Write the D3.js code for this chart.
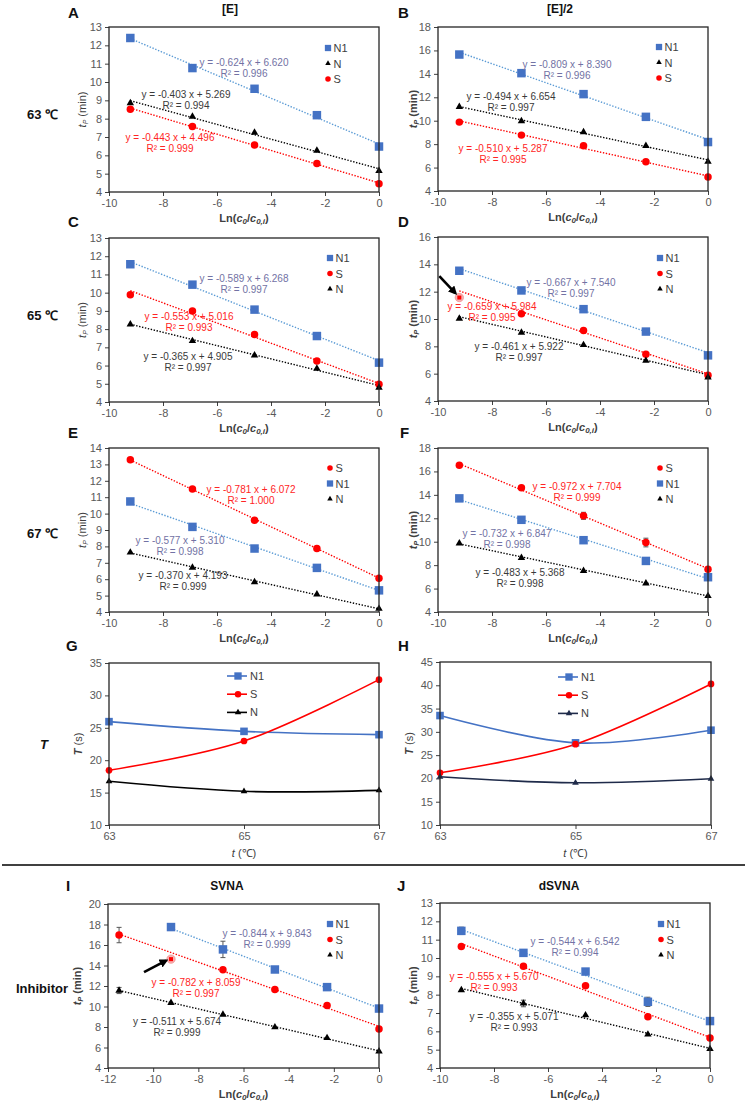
<!DOCTYPE html>
<html>
<head>
<meta charset="utf-8">
<script src="https://cdn.jsdelivr.net/npm/d3@7"></script>
<style>
  body { margin: 0; background: #fff; }
  svg { display: block; font-family: "Liberation Sans", Arial, sans-serif; }
</style>
</head>
<body>
<svg id="fig" width="747" height="1101"></svg>
<script>
// x values: Ln(c0/c0,i) for the dilution series
var lnX = [-9.21, -6.91, -4.61, -2.30, 0];
var lnXI = [-11.51, -9.21, -6.91, -4.61, -2.30, 0];
var temps = [63, 65, 67];

// fit arrays are [slope, intercept, R2]
// A  63 C, [E]
var aN1 = [12.40, 10.76, 9.63, 8.19, 6.48];
var aN  = [8.85, 8.11, 7.24, 6.26, 5.16];
var aS  = [8.52, 7.57, 6.57, 5.55, 4.45];
var aFitN1 = [-0.624, 6.620, 0.996], aFitN = [-0.403, 5.269, 0.994], aFitS = [-0.443, 4.496, 0.999];
// B  63 C, [E]/2
var bN1 = [15.65, 14.06, 12.27, 10.33, 8.18];
var bN  = [11.19, 9.97, 9.03, 7.86, 6.50];
var bS  = [9.88, 8.77, 7.86, 6.50, 5.20];
var bFitN1 = [-0.809, 8.390, 0.996], bFitN = [-0.494, 6.654, 0.997], bFitS = [-0.510, 5.287, 0.995];
// C  65 C, [E]
var cN1 = [11.56, 10.44, 9.07, 7.62, 6.16];
var cS  = [9.89, 9.00, 7.71, 6.25, 4.97];
var cN  = [8.26, 7.35, 6.56, 5.83, 4.79];
var cFitN1 = [-0.589, 6.268, 0.997], cFitS = [-0.553, 5.016, 0.993], cFitN = [-0.365, 4.905, 0.997];
// D  65 C, [E]/2
var dN1 = [13.53, 12.09, 10.72, 9.08, 7.34];
var dS  = [11.57, 10.38, 9.15, 7.42, 5.88];
var dN  = [10.03, 9.00, 8.10, 6.95, 5.73];
var dFitN1 = [-0.667, 7.540, 0.997], dFitS = [-0.659, 5.984, 0.995], dFitN = [-0.461, 5.922, 0.997];
// E  67 C, [E]
var eS  = [13.29, 11.50, 9.60, 7.87, 6.06];
var eN1 = [10.74, 9.19, 7.87, 6.69, 5.32];
var eN  = [7.63, 6.71, 5.83, 5.08, 4.20];
var eFitS = [-0.781, 6.072, 1.000], eFitN1 = [-0.577, 5.310, 0.998], eFitN = [-0.370, 4.193, 0.999];
// F  67 C, [E]/2
var fS  = [16.52, 14.61, 12.21, 9.93, 7.65];
var fSErr = [0, 0.15, 0.30, 0.37, 0];
var fN1 = [13.70, 11.87, 10.13, 8.36, 6.97];
var fN  = [9.87, 8.62, 7.51, 6.45, 5.37];
var fFitS = [-0.972, 7.704, 0.999], fFitN1 = [-0.732, 6.847, 0.998], fFitN = [-0.483, 5.368, 0.998];
// G, H  T (s) versus temperature
var gN1 = [25.95, 24.45, 23.94];
var gS  = [18.44, 22.96, 32.43];
var gN  = [16.74, 15.20, 15.35];
var hN1 = [33.50, 27.64, 30.36];
var hS  = [21.21, 27.36, 40.29];
var hN  = [20.36, 19.07, 19.93];
// I  inhibitor, SVNA
var iN1 = [17.75, 15.57, 13.61, 11.89, 9.80];
var iN1Err = [0, 0.80, 0, 0, 0];
var iS  = [16.97, 14.62, 13.58, 11.66, 10.10, 7.80];
var iSErr = [0.75, 0, 0, 0, 0, 0];
var iN  = [11.56, 10.35, 9.21, 7.98, 6.93, 5.63];
var iNErr = [0.30, 0, 0, 0, 0, 0];
var iFitN1 = [-0.844, 9.843, 0.999], iFitS = [-0.782, 8.059, 0.997], iFitN = [-0.511, 5.674, 0.999];
// J  inhibitor, dSVNA
var jN1 = [11.48, 10.28, 9.26, 7.61, 6.56];
var jN1Err = [0.20, 0.15, 0, 0.25, 0];
var jS  = [10.63, 9.55, 8.49, 6.79, 5.64];
var jN  = [8.25, 7.52, 6.88, 5.83, 5.04];
var jNErr = [0, 0.18, 0, 0, 0];
var jFitN1 = [-0.544, 6.542, 0.994], jFitS = [-0.555, 5.670, 0.993], jFitN = [-0.355, 5.071, 0.993];

var style = {
  N1: { shape: d3.symbolSquare, size: 72, fill: '#4472c4', trend: '#5b9bd5', eq: '#7272a4' },
  S:  { shape: d3.symbolCircle, size: 44, fill: '#ff0000', trend: '#ff0000', eq: '#ff2525' },
  N:  { shape: d3.symbolTriangle, size: 24, fill: '#000000', trend: '#000000', eq: '#3a3a3a' }
};

var svg = d3.select('#fig');
svg.append('rect').attr('width', 747).attr('height', 1101).attr('fill', '#fff');

var defs = svg.append('defs');
defs.append('marker')
  .attr('id', 'arrowHead')
  .attr('viewBox', '0 0 10 10')
  .attr('refX', 7).attr('refY', 5)
  .attr('markerWidth', 3.4).attr('markerHeight', 3.4)
  .attr('orient', 'auto')
  .append('path').attr('d', 'M0,0L10,5L0,10z').attr('fill', '#000');

var regPanels = [
  { letter: 'A', lpos: [68, 18], title: '[E]', tpos: [230, 13], box: [109, 27, 379, 192], x: [-10, 0], y: [4, 13], yStep: 1, yOff: 27, boldY: false,
    legend: [219, 21],
    series: [
      { key: 'N1', x: lnX, y: aN1, fit: aFitN1, eq: [135, 35] },
      { key: 'N', x: lnX, y: aN, fit: aFitN, eq: [77, 67] },
      { key: 'S', x: lnX, y: aS, fit: aFitS, eq: [61, 110] }] },
  { letter: 'B', lpos: [398, 18], title: '[E]/2', tpos: [560, 13], box: [438, 27, 708, 191], x: [-10, 0], y: [4, 18], yStep: 2, yOff: 25, boldY: true,
    legend: [221, 20],
    series: [
      { key: 'N1', x: lnX, y: bN1, fit: bFitN1, eq: [129, 37] },
      { key: 'N', x: lnX, y: bN, fit: bFitN, eq: [73, 69] },
      { key: 'S', x: lnX, y: bS, fit: bFitS, eq: [65, 121] }] },
  { letter: 'C', lpos: [68, 227], box: [109, 238, 379, 402], x: [-10, 0], y: [4, 13], yStep: 1, yOff: 27, boldY: false,
    legend: [221, 20],
    series: [
      { key: 'N1', x: lnX, y: cN1, fit: cFitN1, eq: [135, 40] },
      { key: 'S', x: lnX, y: cS, fit: cFitS, eq: [80, 78] },
      { key: 'N', x: lnX, y: cN, fit: cFitN, eq: [79, 118] }] },
  { letter: 'D', lpos: [398, 227], box: [438, 237, 708, 401], x: [-10, 0], y: [4, 16], yStep: 2, yOff: 25, boldY: true,
    legend: [222, 21],
    series: [
      { key: 'N1', x: lnX, y: dN1, fit: dFitN1, eq: [133, 45] },
      { key: 'S', x: lnX, y: dS, fit: dFitS, eq: [54, 69], hl: 0, arrow: [[-4, -4.5], [-16, -17]] },
      { key: 'N', x: lnX, y: dN, fit: dFitN, eq: [81, 109] }] },
  { letter: 'E', lpos: [68, 438], box: [109, 448, 379, 612], x: [-10, 0], y: [4, 14], yStep: 1, yOff: 27, boldY: false,
    legend: [221, 20],
    series: [
      { key: 'S', x: lnX, y: eS, fit: eFitS, eq: [142, 41] },
      { key: 'N1', x: lnX, y: eN1, fit: eFitN1, eq: [71, 92] },
      { key: 'N', x: lnX, y: eN, fit: eFitN, eq: [74, 127] }] },
  { letter: 'F', lpos: [400, 438], box: [438, 448, 708, 612], x: [-10, 0], y: [4, 18], yStep: 2, yOff: 25, boldY: true,
    legend: [222, 20],
    series: [
      { key: 'S', x: lnX, y: fS, err: fSErr, fit: fFitS, eq: [139, 38] },
      { key: 'N1', x: lnX, y: fN1, fit: fFitN1, eq: [69, 85] },
      { key: 'N', x: lnX, y: fN, fit: fFitN, eq: [82, 124] }] },
  { letter: 'I', lpos: [66, 891], title: 'SVNA', tpos: [227, 890], box: [108, 904, 379, 1068], x: [-12, 0], y: [4, 20], yStep: 2, yOff: 31, boldY: true,
    legend: [222, 20],
    series: [
      { key: 'N1', x: lnX, y: iN1, err: iN1Err, fit: iFitN1, eq: [159, 29] },
      { key: 'S', x: lnXI, y: iS, err: iSErr, fit: iFitS, eq: [88, 78], hl: 1, arrow: [[-5, 1.5], [-22, 11.5]] },
      { key: 'N', x: lnXI, y: iN, err: iNErr, fit: iFitN, eq: [69, 117] }] },
  { letter: 'J', lpos: [397, 891], title: 'dSVNA', tpos: [559, 890], box: [440, 903, 710, 1068], x: [-10, 0], y: [4, 13], yStep: 1, yOff: 27, boldY: true,
    legend: [221, 21],
    series: [
      { key: 'N1', x: lnX, y: jN1, err: jN1Err, fit: jFitN1, eq: [135, 38] },
      { key: 'S', x: lnX, y: jS, fit: jFitS, eq: [54, 73] },
      { key: 'N', x: lnX, y: jN, err: jNErr, fit: jFitN, eq: [74, 113] }] }
];

var tPanels = [
  { letter: 'G', lpos: [66, 651], box: [109, 663, 379, 825], y: [10, 35], legend: [118, 13], nColor: '#000000',
    series: [{ key: 'N1', y: gN1 }, { key: 'S', y: gS }, { key: 'N', y: gN }] },
  { letter: 'H', lpos: [398, 651], box: [440, 662, 711, 825], y: [10, 45], legend: [118, 15], nColor: '#1f2b4a',
    series: [{ key: 'N1', y: hN1 }, { key: 'S', y: hS }, { key: 'N', y: hN }] }
];

function fmt(v) { return v.toFixed(3); }

function styleAxis(g) {
  g.select('.domain').remove();
  g.selectAll('.tick line').attr('stroke', '#404040');
  g.selectAll('.tick text').attr('fill', '#595959').attr('font-size', '11px');
}

function frame(p) {
  svg.append('rect')
    .attr('x', p.box[0]).attr('y', p.box[1])
    .attr('width', p.box[2] - p.box[0]).attr('height', p.box[3] - p.box[1])
    .attr('fill', 'none').attr('stroke', '#262626').attr('stroke-width', 1.3);
}

function letter(p) {
  svg.append('text').attr('x', p.lpos[0]).attr('y', p.lpos[1])
    .attr('font-size', '15px').attr('font-weight', 'bold').attr('fill', '#111').text(p.letter);
}

function marker(g, key, cx, cy, scale) {
  var s = style[key];
  g.append('path')
    .attr('d', d3.symbol().type(s.shape).size(s.size * (scale || 1))())
    .attr('transform', 'translate(' + cx + ',' + cy + ')')
    .attr('fill', s.fill);
}

function drawRegPanel(p) {
  var x = d3.scaleLinear().domain(p.x).range([p.box[0], p.box[2]]);
  var y = d3.scaleLinear().domain(p.y).range([p.box[3], p.box[1]]);
  var g = svg.append('g');

  letter(p);
  if (p.title) {
    svg.append('text').attr('x', p.tpos[0]).attr('y', p.tpos[1]).attr('text-anchor', 'middle')
      .attr('font-size', '12px').attr('font-weight', 'bold').attr('fill', '#111').text(p.title);
  }

  frame(p);

  g.append('g').attr('transform', 'translate(' + p.box[0] + ',0)')
    .call(d3.axisLeft(y).tickValues(d3.range(p.y[0], p.y[1] + 0.01, p.yStep)).tickSize(4).tickPadding(3).tickFormat(d3.format('d')))
    .call(styleAxis);
  g.append('g').attr('transform', 'translate(0,' + p.box[3] + ')')
    .call(d3.axisBottom(x).tickValues(d3.range(p.x[0], p.x[1] + 0.01, 2)).tickSize(4).tickPadding(3).tickFormat(d3.format('d')))
    .call(styleAxis);
  g.selectAll('.tick text').text(function() { return this.textContent.replace('\u2212', '-'); });

  // x title Ln(c0/c0,i)
  var xt = svg.append('text')
    .attr('x', (p.box[0] + p.box[2]) / 2).attr('y', p.box[3] + 30)
    .attr('text-anchor', 'middle').attr('font-size', '11px').attr('font-weight', 'bold').attr('fill', '#404040');
  xt.append('tspan').text('Ln(');
  xt.append('tspan').attr('font-style', 'italic').text('c');
  xt.append('tspan').attr('font-style', 'italic').attr('font-size', '8px').attr('dy', 2).text('0');
  xt.append('tspan').attr('dy', -2).text('/');
  xt.append('tspan').attr('font-style', 'italic').text('c');
  xt.append('tspan').attr('font-style', 'italic').attr('font-size', '8px').attr('dy', 2).text('0,i');
  xt.append('tspan').attr('dy', -2).text(')');

  // y title tP (min)
  var yt = svg.append('text')
    .attr('transform', 'translate(' + (p.box[0] - p.yOff + 4) + ',' + ((p.box[1] + p.box[3]) / 2) + ') rotate(-90)')
    .attr('text-anchor', 'middle').attr('font-size', '11px').attr('fill', '#404040')
    .attr('font-weight', p.boldY ? 'bold' : 'normal');
  yt.append('tspan').attr('font-style', 'italic').text('t');
  yt.append('tspan').attr('font-style', 'italic').attr('font-size', '7px').attr('dy', 2).text('P');
  yt.append('tspan').attr('dy', -2).text(' (min)');

  // trend lines
  p.series.forEach(function(s) {
    var st = style[s.key];
    var ends = d3.extent(s.x);
    g.append('line')
      .attr('x1', x(ends[0])).attr('y1', y(s.fit[0] * ends[0] + s.fit[1]))
      .attr('x2', x(ends[1])).attr('y2', y(s.fit[0] * ends[1] + s.fit[1]))
      .attr('stroke', st.trend).attr('stroke-width', 1.4).attr('stroke-dasharray', '1.4,1.6');
  });

  // error bars and markers
  p.series.forEach(function(s) {
    var st = style[s.key];
    s.y.forEach(function(v, i) {
      var e = s.err ? s.err[i] : 0;
      if (e > 0) {
        var cx = x(s.x[i]);
        g.append('line').attr('x1', cx).attr('x2', cx).attr('y1', y(v - e)).attr('y2', y(v + e))
          .attr('stroke', '#555').attr('stroke-width', 1);
        [v - e, v + e].forEach(function(w) {
          g.append('line').attr('x1', cx - 2.5).attr('x2', cx + 2.5).attr('y1', y(w)).attr('y2', y(w))
            .attr('stroke', '#555').attr('stroke-width', 1);
        });
      }
      if (s.hl === i) {
        g.append('circle').attr('cx', x(s.x[i])).attr('cy', y(v)).attr('r', 4.2)
          .attr('fill', '#f7b0b0').attr('stroke', '#f08080').attr('stroke-width', 0.6);
        g.append('rect').attr('x', x(s.x[i]) - 2).attr('y', y(v) - 2).attr('width', 4).attr('height', 4)
          .attr('fill', '#ff0000');
        var tip = [x(s.x[i]) + s.arrow[0][0], y(v) + s.arrow[0][1]];
        g.append('line')
          .attr('x1', tip[0] + s.arrow[1][0]).attr('y1', tip[1] + s.arrow[1][1])
          .attr('x2', tip[0]).attr('y2', tip[1])
          .attr('stroke', '#000').attr('stroke-width', 2.6).attr('marker-end', 'url(#arrowHead)');
      } else {
        marker(g, s.key, x(s.x[i]), y(v));
      }
    });
  });

  // equations
  p.series.forEach(function(s) {
    var st = style[s.key];
    var cx = p.box[0] + s.eq[0], cy = p.box[1] + s.eq[1];
    var sign = s.fit[1] >= 0 ? ' + ' : ' - ';
    g.append('text').attr('x', cx).attr('y', cy + 3.5).attr('text-anchor', 'middle')
      .attr('font-size', '10px').attr('fill', st.eq)
      .text('y = ' + fmt(s.fit[0]) + ' x' + sign + fmt(Math.abs(s.fit[1])));
    g.append('text').attr('x', cx).attr('y', cy + 14.5).attr('text-anchor', 'middle')
      .attr('font-size', '10px').attr('fill', st.eq)
      .text('R\u00b2 = ' + fmt(s.fit[2]));
  });

  // legend
  p.series.forEach(function(s, i) {
    var lx = p.box[0] + p.legend[0], ly = p.box[1] + p.legend[1] + i * 15.5;
    marker(g, s.key, lx, ly, 0.55);
    g.append('text').attr('x', lx + 5.5).attr('y', ly + 4).attr('font-size', '11px').attr('fill', '#404040').text(s.key);
  });
}

function drawTPanel(p) {
  var x = d3.scaleLinear().domain([63, 67]).range([p.box[0], p.box[2]]);
  var y = d3.scaleLinear().domain(p.y).range([p.box[3], p.box[1]]);
  var g = svg.append('g');

  letter(p);
  frame(p);

  g.append('g').attr('transform', 'translate(' + p.box[0] + ',0)')
    .call(d3.axisLeft(y).tickValues(d3.range(p.y[0], p.y[1] + 0.01, 5)).tickSize(4).tickPadding(3))
    .call(styleAxis);
  g.append('g').attr('transform', 'translate(0,' + p.box[3] + ')')
    .call(d3.axisBottom(x).tickValues(temps).tickSize(4).tickPadding(3).tickFormat(d3.format('d')))
    .call(styleAxis);

  var xt = svg.append('text').attr('x', (p.box[0] + p.box[2]) / 2).attr('y', p.box[3] + 32)
    .attr('text-anchor', 'middle').attr('font-size', '11px').attr('fill', '#404040');
  xt.append('tspan').attr('font-style', 'italic').text('t');
  xt.append('tspan').text(' (\u2103)');

  var yt = svg.append('text')
    .attr('transform', 'translate(' + (p.box[0] - 31 + 4) + ',' + ((p.box[1] + p.box[3]) / 2) + ') rotate(-90)')
    .attr('text-anchor', 'middle').attr('font-size', '11px').attr('fill', '#404040');
  yt.append('tspan').attr('font-style', 'italic').attr('font-weight', 'bold').text('T');
  yt.append('tspan').text(' (s)');

  var line = d3.line()
    .x(function(d, i) { return x(temps[i]); })
    .y(function(d) { return y(d); })
    .curve(d3.curveCatmullRom.alpha(0));

  p.series.forEach(function(s) {
    var col = s.key === 'N' ? p.nColor : style[s.key].fill;
    g.append('path').attr('d', line(s.y)).attr('fill', 'none').attr('stroke', col).attr('stroke-width', 1.6);
  });
  p.series.forEach(function(s) {
    var st = style[s.key];
    s.y.forEach(function(v, i) {
      g.append('path')
        .attr('d', d3.symbol().type(st.shape).size(st.size * 0.8)())
        .attr('transform', 'translate(' + x(temps[i]) + ',' + y(v) + ')')
        .attr('fill', s.key === 'N' ? p.nColor : st.fill);
    });
  });

  p.series.forEach(function(s, i) {
    var lx = p.box[0] + p.legend[0], ly = p.box[1] + p.legend[1] + i * 18.2;
    var col = s.key === 'N' ? p.nColor : style[s.key].fill;
    g.append('line').attr('x1', lx).attr('x2', lx + 20).attr('y1', ly).attr('y2', ly)
      .attr('stroke', col).attr('stroke-width', 1.6);
    g.append('path')
      .attr('d', d3.symbol().type(style[s.key].shape).size(style[s.key].size * 0.75)())
      .attr('transform', 'translate(' + (lx + 11) + ',' + ly + ')')
      .attr('fill', col);
    g.append('text').attr('x', lx + 23).attr('y', ly + 4).attr('font-size', '11px').attr('fill', '#404040').text(s.key);
  });
}

regPanels.forEach(drawRegPanel);
tPanels.forEach(drawTPanel);

// row labels
var rowLabels = [['63 \u2103', 27, 119], ['65 \u2103', 27, 320], ['67 \u2103', 27, 538], ['Inhibitor', 16, 993]];
rowLabels.forEach(function(r) {
  svg.append('text').attr('x', r[1]).attr('y', r[2]).attr('font-size', '13px').attr('font-weight', 'bold')
    .attr('fill', '#111').text(r[0]);
});
svg.append('text').attr('x', 40).attr('y', 749).attr('font-size', '13px').attr('font-weight', 'bold')
  .attr('font-style', 'italic').attr('fill', '#111').text('T');

// separator between temperature and inhibitor rows
svg.append('line').attr('x1', 2).attr('x2', 745).attr('y1', 865).attr('y2', 865)
  .attr('stroke', '#000').attr('stroke-width', 1.4);
</script>
</body>
</html>
